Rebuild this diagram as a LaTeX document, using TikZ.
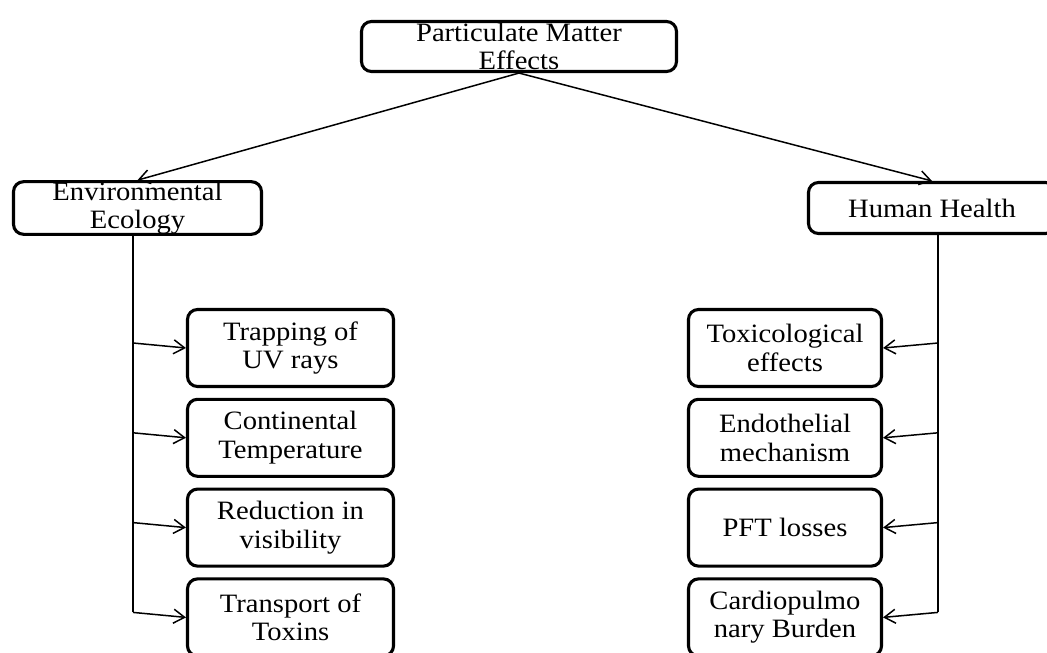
\documentclass[tikz,border=0pt]{standalone}
\usepackage{fontspec}
\setmainfont{Liberation Serif}[FakeStretch=1.08]
\usepackage{tikz}
\usetikzlibrary{arrows, arrows.meta, calc, positioning, shapes}

\begin{document}
\begin{tikzpicture}[
    x=1pt, y=-1pt,
    font=\fontsize{26.5}{28.5}\selectfont,
    box/.style={draw, line width=3.1pt, rounded corners=10pt, align=center, inner sep=0pt},
    subbox/.style={box, minimum height=77pt},
    link/.style={line width=1.5pt, -{Straight Barb[length=11pt, width=14pt]}},
    trunk/.style={line width=1.5pt},
    node distance=9.7pt,
]
\useasboundingbox (0,0) rectangle (1047,653);

\node[box, minimum width=315pt, minimum height=50pt] (pm) at (519,46.5) {Particulate Matter\\Effects};
\node[box, minimum width=248pt, minimum height=51pt] (env) at (137.5,208) {Environmental\\Ecology};
\node[box, minimum width=247pt, minimum height=51pt] (hh) at (932,208) {Human Health};

% environmental side
\node[subbox, minimum width=206pt] (trap) at (290.5,348) {Trapping of\\UV rays};
\node[subbox, minimum width=206pt, below=of trap] (cont) {Continental\\Temperature};
\node[subbox, minimum width=206pt, below=of cont] (vis) {Reduction in\\visibility};
\node[subbox, minimum width=206pt, below=of vis] (trans) {Transport of\\Toxins};

% health side
\node[subbox, minimum width=193pt] (toxi) at (785,348) {Toxicological\\effects};
\node[subbox, minimum width=193pt, below=of toxi] (endo) {Endothelial\\mechanism};
\node[subbox, minimum width=193pt, below=of endo] (pft) {PFT losses};
\node[subbox, minimum width=193pt, below=of pft] (card) {Cardiopulmo\\nary Burden};

\draw[link] (pm.south) -- (env.north);
\draw[link] (pm.south) -- (hh.north);

\coordinate (etrunk) at ([xshift=-4.5pt]env.south);
\coordinate (htrunk) at ([xshift=6pt]hh.south);

\draw[trunk] (etrunk) -- ($(trans.west -| etrunk)+(0,-5)$);
\draw[trunk] (htrunk) -- ($(card.east -| htrunk)+(0,-5)$);

\foreach \k in {trap, cont, vis, trans}
    \draw[link] ($(\k.west -| etrunk)+(0,-5)$) -- (\k.west);
\foreach \k in {toxi, endo, pft, card}
    \draw[link] ($(\k.east -| htrunk)+(0,-5)$) -- (\k.east);
\end{tikzpicture}
\end{document}
